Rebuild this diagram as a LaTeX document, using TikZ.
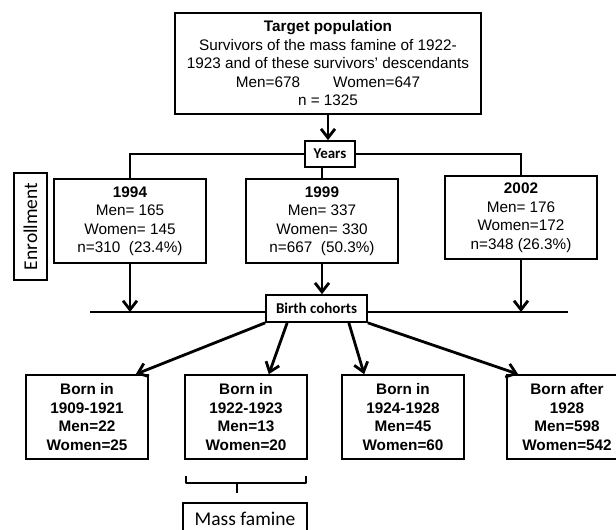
\documentclass[tikz,border=0pt]{standalone}
\usepackage{fontspec}
\setmainfont{Liberation Sans}
\newfontfamily\calfont{Carlito}
\usetikzlibrary{arrows.meta}
\newcommand\arialtxt{\fontsize{15.3}{18.5}\selectfont}
\begin{document}
\begin{tikzpicture}[x=1pt,y=-1pt,
  box/.style={draw, line width=1.7pt, inner sep=0pt, align=center, font=\arialtxt},
  bbox/.style={box, font=\arialtxt\bfseries},
  lblbox/.style={draw, line width=1.7pt, inner sep=0pt, align=center, font=\calfont\bfseries\fontsize{15}{18}\selectfont},
  sidebox/.style={draw, line width=1.7pt, inner sep=0pt, align=center, font=\calfont\fontsize{19.5}{22}\selectfont},
  conn/.style={line width=2.8pt},
  arr/.style={conn, -{Straight Barb[length=9pt,width=14pt]}}]
\useasboundingbox (0,0) rectangle (616,530);
\fill[white] (0,0) rectangle (616,530);
\clip (0,0) rectangle (616,530);

\node[box, minimum width=306pt, minimum height=101pt] (top) at (328,63.5)
  {\textbf{Target population}\\Survivors of the mass famine of 1922-\\1923 and of these survivors’ descendants\\Men=678\hspace{33pt}Women=647\\n = 1325};
\node[lblbox, minimum width=50pt, minimum height=26pt] (years) at (330,154) {Years};
\node[box, minimum width=152pt, minimum height=84pt] (y94) at (130,221)
  {\textbf{1994}\\Men= 165\\Women= 145\\n=310\ \ (23.4\%)};
\node[box, minimum width=152pt, minimum height=84pt] (y99) at (322,221)
  {\textbf{1999}\\Men= 337\\Women= 330\\n=667\ \ (50.3\%)};
\node[box, minimum width=152pt, minimum height=83pt] (y02) at (521,217.5)
  {\textbf{2002}\\Men= 176\\Women=172\\n=348 (26.3\%)};
\node[sidebox, rotate=90, minimum width=107pt, minimum height=33pt] (enr) at (30.5,226.5) {Enrollment};
\node[lblbox, minimum width=101pt, minimum height=27pt] (bc) at (316.5,308.5) {Birth cohorts};
\node[bbox, minimum width=122pt, minimum height=84pt] (b1) at (87,417)
  {Born in\\1909-1921\\Men=22\\Women=25};
\node[bbox, minimum width=122pt, minimum height=84pt] (b2) at (246,417)
  {Born in\\1922-1923\\Men=13\\Women=20};
\node[bbox, minimum width=122pt, minimum height=84pt] (b3) at (403,417)
  {Born in\\1924-1928\\Men=45\\Women=60};
\node[bbox, minimum width=120pt, minimum height=84pt] (b4) at (567,417)
  {Born after\\1928\\Men=598\\Women=542};
\node[sidebox, minimum width=124pt, minimum height=32pt, text height=12pt, text depth=0pt] (mf) at (245,519) {Mass famine};

\coordinate (bl) at (90,312);
\coordinate (br) at (568,312);

\draw[arr] (top.south) -- (top.south |- years.north);
\draw[conn] (years.west) -| (y94.north);
\draw[conn] (years.east) -| (y02.north);
\draw[conn] (years.south -| y99.north) -- (y99.north);

\draw[arr] (y94.south) -- (y94.south |- bl);
\draw[arr] (y99.south) -- (bc.north -| y99.south);
\draw[arr] (y02.south) -- (y02.south |- bl);
\draw[conn] (bl) -- (bl -| bc.west);
\draw[conn] (br -| bc.east) -- (br);

\draw[arr] (bc.south west) -- ([xshift=-13pt]b1.north east);
\draw[arr] ([xshift=22pt]bc.south west) -- ([xshift=-39pt]b2.north east);
\draw[arr] ([xshift=-19pt]bc.south east) -- ([xshift=23pt]b3.north west);
\draw[arr] (bc.south east) -- ([xshift=12pt]b4.north west);

\coordinate (kL) at (186,476);
\coordinate (kR) at (306,476);
\coordinate (kM) at (237,483);
\coordinate (kT) at (237,493);
\draw[conn, line join=round] (kL) -- (kL |- kM) -- (kR |- kM) -- (kR);
\draw[conn] (kM) -- (kT);
\end{tikzpicture}
\end{document}
